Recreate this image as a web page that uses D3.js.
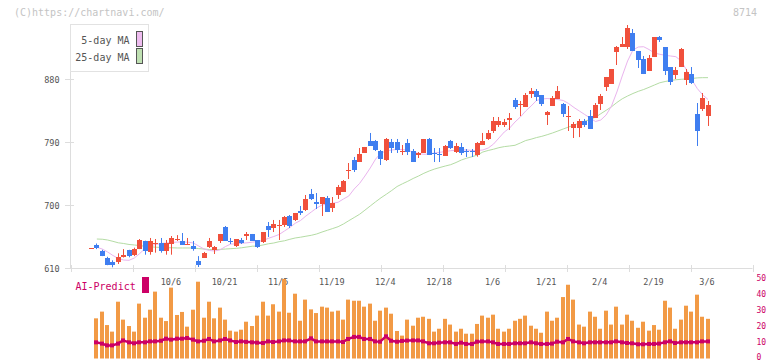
<!DOCTYPE html>
<html><head><meta charset="utf-8">
<script src="https://cdn.jsdelivr.net/npm/d3@7/dist/d3.min.js"></script>
<style>
html,body{margin:0;padding:0;background:#fff;}
svg{display:block;}
text{font-family:"DejaVu Sans Mono","Liberation Mono",monospace;}
</style></head><body>
<svg id="c" width="772" height="361"></svg>
<script>
// ---- data ----
const openP  = [638,643,634.7,625,618,619,626,635.7,628.6,637,648.6,633.3,645,645.7,634.7,644.3,650,648.6,644,641.4,620,624.3,640,635.7,648.6,668.6,648.6,641.4,650,655.7,658.6,650,647.1,670,667.1,670,671.4,684.3,678.6,691.4,692.9,715.7,704.3,701.4,710,695.7,714.3,718.6,749,764.3,761.4,774.3,791.4,791.4,777.1,764.3,790,790,777,788.6,777.1,771.4,774.3,794.3,774.3,772.9,770,791.4,775.7,782.9,776.5,776.5,771.4,785.7,794.3,805.7,814.3,814.3,821.4,850,844,840,858.6,862.9,857.1,828.6,841.4,851.4,844.3,826.5,810,810,820,827.1,824.3,844.3,868.6,872.9,918.6,925.7,925.7,945.7,920,908.6,891.4,911.4,940,925.7,897.1,885.7,897.1,878.6,887.1,830,837.1,827.1];
const highP  = [638,645,636,626,621,631,637,636,639,651.4,649,652.9,651.4,652.9,650,655.7,657,660,652.9,648.6,627,633,652.9,641.4,658.6,670,652.9,651.4,652.9,661.4,658.6,650,661.4,675.7,678.6,678.6,684.3,685.7,688.6,698.6,714.3,722.9,717.1,711.4,712.9,711.4,728.6,735.7,760,768.6,781.4,782.9,802.9,792.9,778.6,795.7,794.3,794.3,785.7,794.3,780,775.7,794.3,795.7,781.4,781.4,785.7,792.9,788.6,788.6,780,780,790,802.9,807.1,825.7,825.7,822.9,831.4,852.9,848.6,860,867.1,865.7,857.1,834.3,855.7,870,845.7,841.4,818.6,822.9,822.9,835.7,845.7,858.6,882.9,894.3,927.1,940,957.1,951.4,920,912.9,914.3,940,941.4,925.7,897.1,897.1,924.3,894.3,897.1,845.7,860,848.6];
const lowP   = [638,637,627,614,611,615.7,625,625.3,627,637,629,629,631.9,631.9,629,629,648.6,642.9,642.9,634.7,611.4,624.3,638.6,630,645.7,648.6,644.3,640,644.3,650,648.6,638.6,645.7,654.3,661.4,650,668.6,667.1,677.1,685.7,691.4,707.1,694.3,684.3,690,690,708.6,718.6,737.1,747.1,761.4,774.3,784.3,777.1,757.1,762.9,774.3,774.3,771.4,771.4,761.4,767.1,774.3,771.4,761.4,761.4,770,780,774.3,771.4,768.6,768.6,769,785.7,792.9,802.9,811.4,811.4,807.1,837.1,827.1,840,852.9,848.6,841.4,814.3,841.4,851.4,825.7,805.7,795.7,797,811.4,808.6,824.3,835.7,862.9,872.9,900,925.7,922.9,920,895.7,887.1,891.4,911.4,932.9,885.7,871.4,880,897.1,871.4,872.9,784.3,834.3,812.9];
const closeP = [638,638,627.6,615,614.5,626.2,628.5,627,637,650,634.7,648.6,646,634.7,645.7,652.9,651.4,642.9,645,637.1,614.3,631.4,648.6,640,658.6,648.6,647,651.4,645.7,658.6,648.6,640,661.4,664.3,672.9,671,682.9,670,688.6,688.6,708.6,708.6,701.4,711.4,690,702.9,725.7,734.3,750,750,772.9,782.9,784.3,778.6,765.7,794.3,781.4,778.6,777.1,775.7,761.4,774.3,794.3,771.4,772.9,771.4,784.3,781.4,784.3,774.3,775.7,775.7,788.6,791.4,802.9,820,820,818.6,824.3,840,844.3,857.1,862.9,854.3,844.3,832.9,852.9,862.9,830,827.1,815.7,820,814.3,808.6,842.9,855.7,882.9,894.3,925.7,930,952.9,920,907.1,887.1,910,940,935.7,891.4,875.7,892.9,922.9,890,874.3,805.7,852.9,842.9];
const ma5 = [null,639.6,637.1,632.9,627.9,623.6,621.4,621,624.3,630.7,637.9,642.1,643.6,645,645.7,646.4,647.1,647.1,646.9,645.7,641.4,637.1,635,634.3,636,640.7,644.3,644.3,645.3,646,646.9,647.9,649.3,652.4,655,657.9,662.9,667.9,673.9,677.9,684.3,690,695.7,700,701.4,702.6,703.9,708.6,712.9,722.9,730.7,741.4,752.9,765.7,774.3,777.1,778.6,779.3,779.3,778.1,775.7,773.6,772.4,772.9,774.3,775.3,776.4,777.6,778.1,778.6,778.6,777.9,777.9,778.6,781.4,787.1,795.7,804.3,810,818.6,825.7,834.3,841.4,849.3,851.4,852.1,851.4,850.7,849.3,845,839.3,834.3,829.3,824.3,819.3,821.4,828.6,841.4,861.4,884.3,905.7,921.4,925.7,926.1,922.1,917.1,915.3,913.9,912.9,911.9,905.7,892.9,878.6,866.4,857.4,850.7];
const ma25 = [null,651.4,651.1,650,648.1,646,645,643.6,642.9,641.9,641.1,640.3,639.7,639.3,639,638.9,638.6,638.6,638.6,638.6,637.7,637.1,636.4,636.1,636.6,637.1,637.6,638.1,638.9,640,641.1,641.4,642.9,644.6,645.7,647.6,648.9,651,652.9,654,655.4,656.7,658.6,661.4,663.9,666.4,669,672.9,677.6,682.1,686.7,692.6,698.6,704.6,710.3,715.4,720.7,726.4,730.3,733.9,737.9,741.4,745.3,748.6,751.4,753.6,755.7,757.6,760.7,764.3,766.9,769,771.4,775.7,777.9,779.7,781.9,783.4,784.3,785.3,788.6,792.1,794,796.3,798.1,800.4,802.9,805.7,808.6,811.4,814.3,817.1,819.6,822.1,825.4,830.4,835.3,840.3,846.4,851.7,855.7,859.3,862.4,865,868.1,871.4,874.6,876.4,877.9,878.9,879.6,880,880.7,881.6,881.9,881.9];
const volume = [null,25.1,29.3,20.9,16.8,35.5,24.3,20.3,16.8,34.3,25.5,30.5,41.8,25.5,23.4,44.3,27.2,29.1,19.9,30.5,48,25.5,35.5,25.1,31.8,24.3,17.4,16.8,18,23,20.3,26.8,35.5,26.8,33.9,29.3,49.7,28.6,40.5,23.6,36.8,30.7,28.4,32.4,31.8,29.3,29.9,24.3,36.8,36.1,36.1,32.4,34.3,23.6,29.9,31.8,28,17.2,14.3,24.3,20.5,25.5,26.1,24.8,16.8,18.6,24.8,21.2,16.8,18.6,15.5,15.5,21.6,26.8,25.5,27.4,18.6,16.8,18.6,23.6,24.8,26.8,20.5,18.6,16.1,29.3,23.6,25.5,38.4,46.1,36.8,21.2,19.9,29.3,26.1,18.6,29.9,21.2,32.4,21.2,27.4,23.6,19.2,23,17.4,20.9,18,36.1,31.8,18.6,24.3,33,29.3,39.9,26.1,24.8];
const aiPredict = [null,
  10.1,9.3,8.2,8.2,9.3,11.3,10.1,9.5,10.1,10.1,
  10.7,10.7,11.1,12.4,11.8,12.4,12.4,12.8,11.8,10.7,
  11.1,12.2,10.7,11.3,12.2,11.3,10.3,10.7,10.4,10.1,
  9.9,9.7,10.7,10.3,10.7,11.3,11.3,10.7,10.7,10.7,
  12.6,10.7,10.7,10.7,10.7,10.7,10.3,12.2,13.5,13.5,
  12.2,12.2,10.7,10.5,13.85,11.1,10.5,11,11.2,11.3,
  11.3,10.7,9.5,9.5,9.9,10.1,10.1,9.1,9.9,9.1,
  9.1,10.5,10.7,10.7,10.1,9.1,9.1,9.1,9.5,9.5,
  9.5,10.1,9.5,9.1,9.1,9.3,10.5,10.1,12.2,10.7,
  10.1,9.5,10.1,10.1,10.1,10.1,10.1,10.7,10.1,9.7,
  9.5,8.9,8.9,9.1,9.1,9.3,10.1,10.7,9.7,10.1,
  10.1,10.1,10.1,10.7,10.7];
const xTickLabels = ["10/6","10/21","11/5","11/19","12/4","12/18","1/6","1/21","2/4","2/19","3/6"];
const xTickIndex  = [15,25,35,45,55,65,75,85,95,105,115];
const yTicks = [610,700,790,880];
const volTicks = [0,10,20,30,40,50];

// ---- drawing ----
const svg = d3.select("#c");
const N = closeP.length;
const x = d3.scaleLinear().domain([0, N-1]).range([91.5, 708]);
const y = d3.scaleLinear().domain([610, 880]).range([268, 79]);
const vy = d3.scaleLinear().domain([0, 50]).range([358.5, 278.5]);
const grid = d3.scaleLinear().domain([0, 11]).range([70.5, 752.5]);

const AXIS = "#dddddd", LABEL = "#555", UP = "#f0503c", DOWN = "#3f7ef0";

// credits
svg.append("text").attr("x",14).attr("y",15.5).attr("font-size",10).attr("fill","#c4c4c4").text("(C)https://chartnavi.com/");
svg.append("text").attr("x",757).attr("y",15.5).attr("font-size",10).attr("fill","#c4c4c4").attr("text-anchor","end").text("8714");

// axes
svg.append("line").attr("x1",70.5).attr("x2",70.5).attr("y1",24).attr("y2",268).attr("stroke",AXIS);
svg.append("line").attr("x1",70.5).attr("x2",752.5).attr("y1",268.5).attr("y2",268.5).attr("stroke",AXIS);
d3.range(12).forEach(k=>{
  const gx = Math.round(grid(k))+0.5;
  svg.append("line").attr("x1",gx).attr("x2",gx).attr("y1",265).attr("y2",272).attr("stroke",AXIS);
});
yTicks.forEach(v=>{
  const yy = Math.round(y(v))+0.5;
  svg.append("line").attr("x1",65).attr("x2",74).attr("y1",yy).attr("y2",yy).attr("stroke",AXIS);
  svg.append("text").attr("x",59.5).attr("y",yy+3).attr("font-size",8.5).attr("fill",LABEL).attr("text-anchor","end").text(v);
});
xTickLabels.forEach((t,k)=>{
  svg.append("text").attr("x",x(xTickIndex[k])-1).attr("y",284.5).attr("font-size",8.5).attr("fill",LABEL).attr("text-anchor","middle").text(t);
});

// moving averages
const line = d3.line().defined(d=>d[1]!=null).x(d=>x(d[0])).y(d=>y(d[1]));
svg.append("path").datum(ma25.map((v,i)=>[i,v])).attr("d",line).attr("fill","none").attr("stroke","#b4dca4").attr("stroke-width",1);
svg.append("path").datum(ma5.map((v,i)=>[i,v])).attr("d",line).attr("fill","none").attr("stroke","#eab4ee").attr("stroke-width",1);

// candles
const cg = svg.append("g");
for(let i=0;i<N;i++){
  const o=openP[i], c=closeP[i], h=highP[i], l=lowP[i];
  const col = c>=o ? UP : DOWN;
  const left = Math.round(x(i)-2.5);
  const cx = left+2.5;
  cg.append("line").attr("x1",cx).attr("x2",cx).attr("y1",y(h)).attr("y2",y(l)).attr("stroke",col).attr("stroke-width",1);
  const top = Math.round(y(Math.max(o,c))), bot = Math.round(y(Math.min(o,c)));
  cg.append("rect").attr("x",left).attr("y",top).attr("width",5).attr("height",Math.max(1,bot-top)).attr("fill",col);
}

// legend
svg.append("rect").attr("x",70.5).attr("y",24.5).attr("width",78).attr("height",47).attr("fill","#fff").attr("stroke","#e2e2e2");
svg.append("text").attr("x",129.5).attr("y",44).attr("font-size",10).attr("fill","#555").attr("text-anchor","end").text("5-day MA");
svg.append("text").attr("x",129.5).attr("y",61).attr("font-size",10).attr("fill","#555").attr("text-anchor","end").text("25-day MA");
svg.append("rect").attr("x",136.5).attr("y",31.5).attr("width",6).attr("height",15).attr("fill","#eebcef").attr("stroke","#555");
svg.append("rect").attr("x",136.5).attr("y",48.5).attr("width",6).attr("height",15).attr("fill","#bfe0b2").attr("stroke","#555");

// volume panel
const AI = "#cc0066";
svg.append("text").attr("x",75.5).attr("y",290).attr("font-size",10).attr("fill",AI).text("AI-Predict");
svg.append("rect").attr("x",142).attr("y",277).attr("width",7).attr("height",16).attr("fill",AI);
volTicks.forEach(v=>{
  svg.append("text").attr("x",756.5).attr("y",Math.min(vy(v)+2.2,359.6)).attr("font-size",8).attr("fill",AI).text(v);
});
const vg = svg.append("g");
volume.forEach((v,i)=>{
  if(v==null) return;
  const left = Math.round(x(i)-2.5);
  vg.append("rect").attr("x",left).attr("y",vy(v)).attr("width",4).attr("height",vy(0)-vy(v)).attr("fill","#f29a45");
});
const aiPts = aiPredict.map((v,i)=>[i,v]).filter(d=>d[1]!=null);
svg.append("path").datum(aiPts).attr("d",d3.line().x(d=>Math.round(x(d[0])-2.5)+2).y(d=>vy(d[1]))).attr("fill","none").attr("stroke",AI).attr("stroke-width",2.5);
svg.append("g").selectAll("rect").data(aiPts).join("rect")
  .attr("x",d=>Math.round(x(d[0])-2.5)).attr("y",d=>vy(d[1])-2).attr("width",4).attr("height",4).attr("fill",AI);
</script></body></html>
